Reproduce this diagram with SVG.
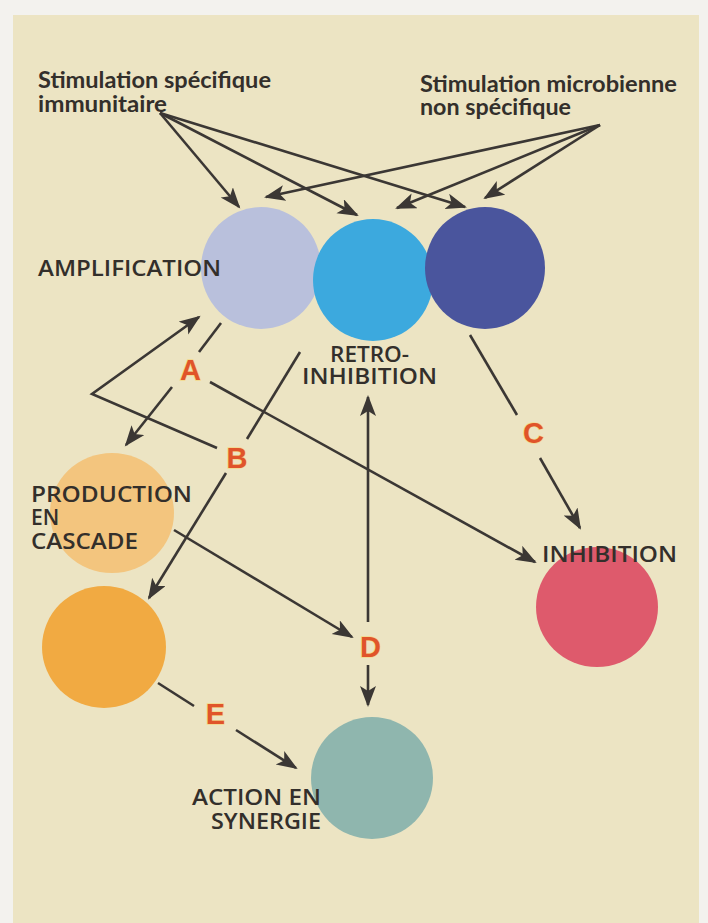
<svg xmlns="http://www.w3.org/2000/svg" width="708" height="923" viewBox="0 0 708 923">
<style>
.lbl{font-family:"Open Sans",Lato,"Liberation Sans",sans-serif;fill:#332f2b;font-size:21px;font-weight:600}
.hdr{font-family:Lato,"Open Sans","Liberation Sans",sans-serif;fill:#332f2b;font-size:22px;font-weight:bold}
.let{font-family:"Liberation Sans",Arial,sans-serif;font-weight:bold;font-size:29px;fill:#e0542a;stroke:#f4d98c;stroke-width:1.5;paint-order:stroke;text-anchor:middle}
.ln{stroke:#3b3734;stroke-width:2.6;fill:none}
.ar{stroke:#3b3734;stroke-width:2.6;fill:none;marker-end:url(#ah)}
</style>
<defs>
<marker id="ah" markerUnits="userSpaceOnUse" markerWidth="22" markerHeight="18" refX="19" refY="8" orient="auto">
<path d="M0,0 L21,8 L0,16 L5,8 z" fill="#3b3734"/>
</marker>
</defs>
<rect x="0" y="0" width="708" height="923" fill="#f3f2ee"/>
<rect x="13" y="15" width="686" height="908" fill="#ece4c3"/>

<g id="amplification">
<ellipse cx="261" cy="268" rx="60" ry="61" fill="#b9c0dc"/>
<text class="lbl" x="38" y="276" textLength="183" lengthAdjust="spacingAndGlyphs">AMPLIFICATION</text>
</g>
<g id="retro-inhibition">
<ellipse cx="373" cy="280" rx="60" ry="61" fill="#3ca9de"/>
<text class="lbl" x="330" y="362" textLength="79" lengthAdjust="spacingAndGlyphs">RETRO-</text>
<text class="lbl" x="302" y="384" textLength="135" lengthAdjust="spacingAndGlyphs">INHIBITION</text>
</g>
<g id="dark-blue">
<ellipse cx="485" cy="268" rx="60" ry="61" fill="#4a559d"/>
</g>
<g id="production">
<ellipse cx="112" cy="513" rx="62" ry="60" fill="#f3c57e"/>
<text class="lbl" x="31" y="502" textLength="161" lengthAdjust="spacingAndGlyphs">PRODUCTION</text>
<text class="lbl" x="31" y="525">EN</text>
<text class="lbl" x="31" y="549" textLength="107" lengthAdjust="spacingAndGlyphs">CASCADE</text>
</g>
<g id="orange">
<ellipse cx="104" cy="647" rx="62" ry="61" fill="#f1aa42"/>
</g>
<g id="inhibition">
<ellipse cx="597" cy="607" rx="61" ry="60" fill="#de5a6c"/>
<text class="lbl" x="542" y="562" textLength="135" lengthAdjust="spacingAndGlyphs">INHIBITION</text>
</g>
<g id="synergie">
<ellipse cx="372" cy="778" rx="61" ry="61" fill="#8fb6ae"/>
<text class="lbl" x="192" y="805" textLength="129" lengthAdjust="spacingAndGlyphs">ACTION EN</text>
<text class="lbl" x="211" y="829" textLength="110" lengthAdjust="spacingAndGlyphs">SYNERGIE</text>
</g>
<g id="stim-specifique">
<text class="hdr" x="38" y="88" textLength="233" lengthAdjust="spacingAndGlyphs">Stimulation spécifique</text>
<text class="hdr" x="38" y="112" textLength="129" lengthAdjust="spacingAndGlyphs">immunitaire</text>
</g>
<g id="stim-microbienne">
<text class="hdr" x="420" y="92" textLength="257" lengthAdjust="spacingAndGlyphs">Stimulation microbienne</text>
<text class="hdr" x="420" y="115" textLength="151" lengthAdjust="spacingAndGlyphs">non spécifique</text>
</g>

<g id="connectors">
<line class="ar" x1="160" y1="113" x2="239" y2="207"/>
<line class="ar" x1="160" y1="113" x2="357" y2="215"/>
<line class="ar" x1="160" y1="113" x2="465" y2="207"/>
<line class="ar" x1="600" y1="125" x2="266" y2="197"/>
<line class="ar" x1="600" y1="125" x2="397" y2="208"/>
<line class="ar" x1="600" y1="125" x2="485" y2="198"/>

<line class="ln" x1="221" y1="323" x2="199" y2="352"/>
<line class="ar" x1="172" y1="387" x2="126" y2="445"/>
<line class="ar" x1="210" y1="382" x2="535" y2="562"/>

<line class="ln" x1="300" y1="352" x2="247" y2="439"/>
<line class="ar" x1="226" y1="473" x2="149" y2="598"/>
<polyline class="ar" points="217,448 92,394 199,317"/>

<line class="ln" x1="470" y1="335" x2="517" y2="415"/>
<line class="ar" x1="540" y1="458" x2="580" y2="528"/>

<line class="ar" x1="174" y1="530" x2="352" y2="637"/>
<line class="ar" x1="368" y1="622" x2="368" y2="397"/>
<line class="ar" x1="368" y1="665" x2="368" y2="705"/>

<line class="ln" x1="158" y1="683" x2="194" y2="706"/>
<line class="ar" x1="236" y1="730" x2="296" y2="768"/>
</g>

<g id="letters">
<text class="let" x="190.5" y="380">A</text>
<text class="let" x="237" y="468">B</text>
<text class="let" x="533.5" y="443">C</text>
<text class="let" x="370.5" y="657">D</text>
<text class="let" x="215.5" y="724">E</text>
</g>
</svg>
